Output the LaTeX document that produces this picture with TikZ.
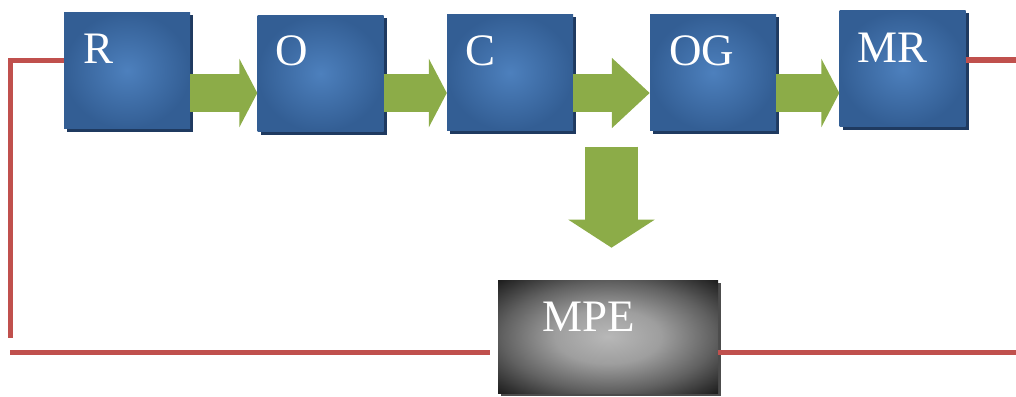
\documentclass[tikz,border=0pt]{standalone}
\usepackage{fontspec}
\setmainfont{Liberation Serif}
\usepackage{tikz}
\usetikzlibrary{positioning,calc,shadows,arrows.meta}
\definecolor{bluein}{HTML}{4D80BD}
\definecolor{blueout}{HTML}{335E94}
\definecolor{blueshade}{HTML}{1F3A60}
\definecolor{arrgreen}{HTML}{8CAC48}
\definecolor{loopred}{HTML}{C0504D}
\pgfdeclareradialshading{mpeshade}{\pgfpoint{0bp}{0bp}}{color(0bp)=(black!28);
  color(12bp)=(black!38); color(24bp)=(black!62); color(35bp)=(black!88); color(50bp)=(black!96)}
\tikzstyle{bbox}=[rectangle,inner sep=0pt,minimum width=126pt,minimum height=116pt,
  shading=radial,inner color=bluein,outer color=blueout,
  drop shadow={shadow xshift=3pt,shadow yshift=-3pt,fill=blueshade,opacity=1}]
\tikzstyle{blabel}=[anchor=north west,inner sep=0pt,text=white,font=\fontsize{45}{50}\selectfont]
\tikzstyle{garrow}=[draw=arrgreen,line width=38pt,-{Triangle[width=68pt,length=18pt]}]
\tikzstyle{rline}=[draw=loopred,line width=5pt]

\begin{document}
\begin{tikzpicture}[x=1pt,y=-1pt]

  \useasboundingbox (0,0) rectangle (1016,396);

  \node[bbox,label={[blabel,xshift=19pt,yshift=-22pt]north west:R}] (R) at (127,70.5) {};
  \node[bbox,label={[blabel,xshift=18pt,yshift=-20pt]north west:O}] (O) at (320.5,73.5) {};
  \node[bbox,label={[blabel,xshift=18pt,yshift=-21pt]north west:C}] (C) at (510,72.5) {};
  \node[bbox,label={[blabel,xshift=19pt,yshift=-21pt]north west:OG}] (OG) at (713,72.5) {};
  \node[bbox,label={[blabel,xshift=18pt,yshift=-23pt]north west:MR}] (MR) at (902.5,68.5) {};

  \node[rectangle,minimum width=220pt,minimum height=113pt,shading=mpeshade,
    drop shadow={shadow xshift=3pt,shadow yshift=-3pt,fill=black!70,opacity=1},
    label={[blabel,xshift=44pt,yshift=-22pt]north west:MPE}] (MPE) at (608,336.5) {};

  \coordinate (dTop) at ($(C.south east)!0.5!(OG.south west)+(0,16)$);
  \coordinate (loopB) at (10,338);
  \coordinate (loopBL) at (10,352);
  \coordinate (mpeIn) at (490,352);
  \coordinate (outB) at (1016,352);
  \coordinate (outT) at (1016,60);

  \draw[garrow] ([yshift=-22.5pt]R.east) -- ([yshift=-22.5pt]R.east -| O.west);
  \draw[garrow] ([yshift=-19.5pt]O.east) -- ([yshift=-19.5pt]O.east -| C.west);
  \draw[garrow,-{Triangle[width=68pt,length=38pt]}] ([yshift=-20.5pt]C.east) -- ([yshift=-20.5pt]C.east -| OG.west);
  \draw[garrow] ([yshift=-20.5pt]OG.east) -- ([yshift=-20.5pt]OG.east -| MR.west);

  \draw[garrow,line width=53pt,-{Triangle[width=85pt,length=28pt]}] (dTop) -- ++(0,101);

  \draw[rline] ([yshift=10pt]R.west) -| (loopB);
  \draw[rline] (loopBL) -- (mpeIn);
  \draw[rline] ([yshift=-15.5pt]MPE.east) -- (outB);
  \draw[rline] ([yshift=8.5pt]MR.east) -- (outT);

\end{tikzpicture}
\end{document}
